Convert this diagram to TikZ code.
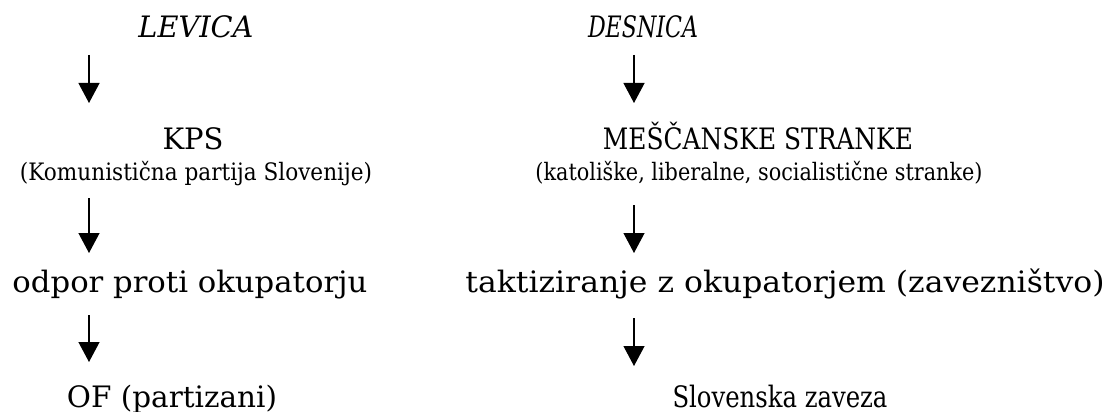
\documentclass[tikz,border=0pt]{standalone}
\usepackage{fontspec}
\setmainfont{DejaVu Serif}
\usepackage{graphicx}
\usetikzlibrary{arrows.meta}
\newcommand{\fitw}[2]{\resizebox{#1}{\height}{#2}}
\tikzset{
  lbl/.style={anchor=base, inner sep=0pt, font=\fontsize{29.5}{31}\selectfont},
  sublbl/.style={anchor=base, inner sep=0pt, font=\fontsize{24}{26}\selectfont},
  flow/.style={line width=1.2pt, -{Triangle[width=21pt,length=20pt]}},
}
\begin{document}
\begin{tikzpicture}[x=1pt,y=-1pt]
\useasboundingbox (0,0) rectangle (1109,412);
% left column
\node[lbl] (levica) at (196,38) {\fitw{115pt}{\itshape LEVICA}};
\node[lbl] (kps) at (193,149) {\fitw{61pt}{KPS}};
\node[sublbl] (kpsfull) at (196,180) {\fitw{352pt}{(Komunistična partija Slovenije)}};
\node[lbl] (odpor) at (190,292) {\fitw{355pt}{odpor proti okupatorju}};
\node[lbl] (of) at (172,407) {\fitw{210pt}{OF (partizani)}};
% right column
\node[lbl] (desnica) at (643,38) {\fitw{110pt}{\itshape DESNICA}};
\node[lbl] (mesc) at (758,149) {\fitw{310pt}{MEŠČANSKE STRANKE}};
\node[sublbl] (mescfull) at (759,180) {\fitw{447pt}{(katoliške, liberalne, socialistične stranke)}};
\node[lbl] (takt) at (785,292) {\fitw{639pt}{taktiziranje z okupatorjem (zavezništvo)}};
\node[lbl] (sz) at (780,407) {\fitw{215pt}{Slovenska zaveza}};
% arrow end points
\coordinate (l1a) at (89,55);  \coordinate (l1b) at (89,103);
\coordinate (l2a) at (89,198); \coordinate (l2b) at (89,253);
\coordinate (l3a) at (89,315); \coordinate (l3b) at (89,362);
\coordinate (r1a) at (634,55);  \coordinate (r1b) at (634,103);
\coordinate (r2a) at (634,205); \coordinate (r2b) at (634,253);
\coordinate (r3a) at (634,318); \coordinate (r3b) at (634,366);
\draw[flow] (l1a) -- (l1b);
\draw[flow] (l2a) -- (l2b);
\draw[flow] (l3a) -- (l3b);
\draw[flow] (r1a) -- (r1b);
\draw[flow] (r2a) -- (r2b);
\draw[flow] (r3a) -- (r3b);
\end{tikzpicture}
\end{document}
